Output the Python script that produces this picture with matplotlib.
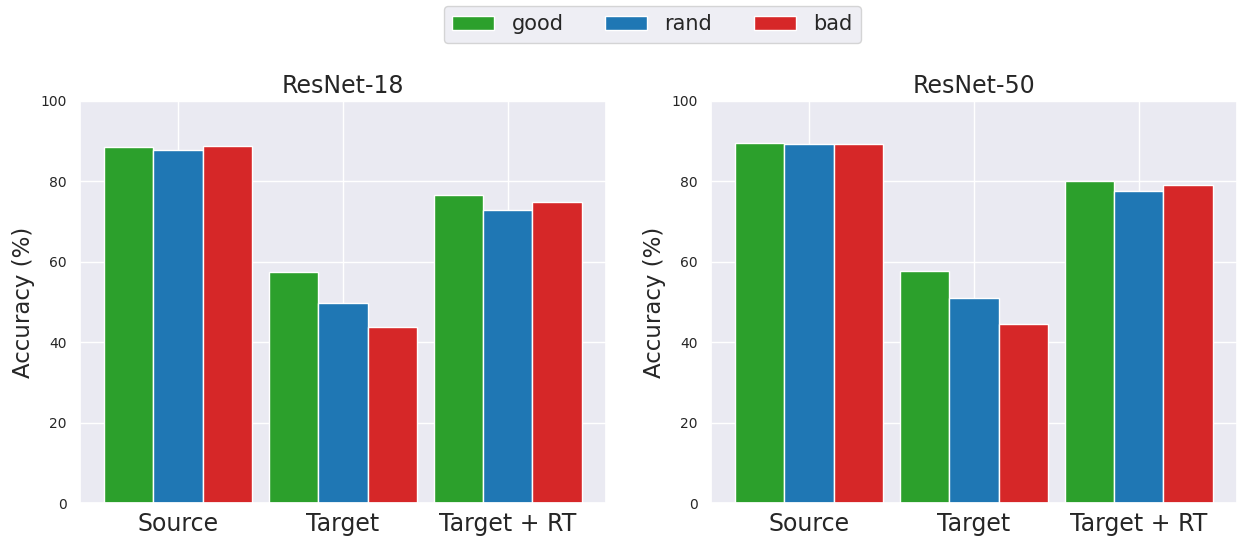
import matplotlib
matplotlib.use("Agg")
import matplotlib.pyplot as plt
import numpy as np
import seaborn as sns

categories = ["Source", "Target", "Target + RT"]
methods = ["good", "rand", "bad"]
colors = ["#2ca02c", "#1f77b4", "#d62728"]

resnet18_good = [88.5, 57.5, 76.6]
resnet18_rand = [87.8, 49.8, 73.0]
resnet18_bad = [88.8, 43.8, 75.0]

resnet50_good = [89.6, 57.6, 80.2]
resnet50_rand = [89.2, 51.1, 77.6]
resnet50_bad = [89.3, 44.6, 79.0]

panels = [
    ("ResNet-18", [resnet18_good, resnet18_rand, resnet18_bad]),
    ("ResNet-50", [resnet50_good, resnet50_rand, resnet50_bad]),
]

sns.set_theme(style="darkgrid")
plt.rcParams["font.family"] = ["DejaVu Sans"]

fig, axes = plt.subplots(1, 2, figsize=(12.38, 5.37), dpi=100)
x = np.arange(len(categories))
width = 0.3

for ax, (title, series) in zip(axes, panels):
    for i, (vals, name, c) in enumerate(zip(series, methods, colors)):
        ax.bar(x + (i - 1) * width, vals, width, color=c, label=name,
               edgecolor="white", linewidth=1)
    ax.set_xticks(x)
    ax.set_xticklabels(categories, fontsize=17)
    ax.tick_params(axis="x", pad=6, length=0)
    ax.set_ylim(0, 100)
    ax.set_yticks([0, 20, 40, 60, 80, 100])
    ax.tick_params(axis="y", labelsize=10)
    ax.set_ylabel("Accuracy (%)", fontsize=16.5)
    ax.set_title(title, fontsize=17)

handles, labels = axes[0].get_legend_handles_labels()
fig.legend(handles, labels, loc="upper center", ncol=3, fontsize=15,
           bbox_to_anchor=(0.527, 1.008), frameon=True, columnspacing=2.0,
           handletextpad=0.85, handlelength=2.0)

fig.subplots_adjust(left=0.0646, right=0.999, top=0.812, bottom=0.063, wspace=0.2)
fig.savefig("out.png", dpi=100)
